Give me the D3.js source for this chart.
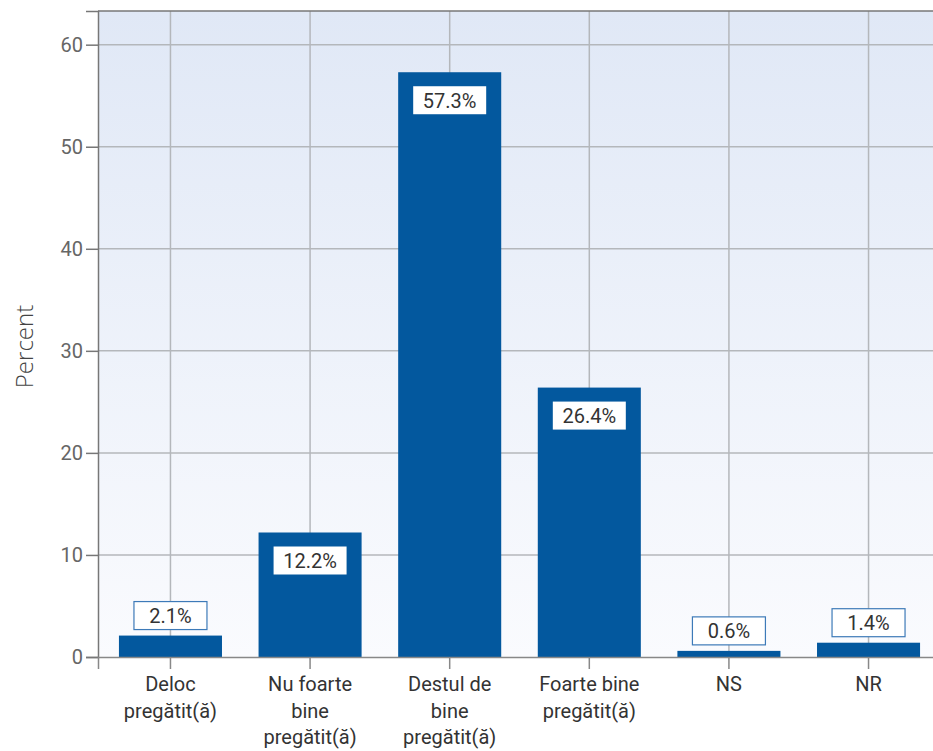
<!DOCTYPE html>
<html><head><meta charset="utf-8">
<script src="https://cdn.jsdelivr.net/npm/d3@7"></script>
<style>body{margin:0;background:#fff;}svg{display:block;font-family:Roboto,"Noto Sans",sans-serif;}</style>
</head><body><div id="chart"></div>
<script>
const categories = [["Deloc","pregătit(ă)"],["Nu foarte","bine","pregătit(ă)"],["Destul de","bine","pregătit(ă)"],["Foarte bine","pregătit(ă)"],["NS"],["NR"]];
const values = [2.1, 12.2, 57.3, 26.4, 0.6, 1.4];
const yTicks = [0,10,20,30,40,50,60];

const W = 933, H = 751;
const m = {left:98, right:0, top:11, bottom:94};
const svg = d3.select("#chart").append("svg").attr("width",W).attr("height",H);
const defs = svg.append("defs");
const g1 = defs.append("linearGradient").attr("id","bg").attr("x1",0).attr("y1",0).attr("x2",0).attr("y2",1);
g1.append("stop").attr("offset","0%").attr("stop-color","#e0e8f6");
g1.append("stop").attr("offset","100%").attr("stop-color","#fafbfe");

const ids = categories.map((c,i)=>i);
const x = d3.scaleBand().domain(ids).range([m.left, 941]).paddingInner(0.262).paddingOuter(0.15);
const y = d3.scaleLinear().domain([0,63.3]).range([H-m.bottom, m.top]);

svg.append("rect").attr("x",m.left).attr("y",m.top).attr("width",W-m.right-m.left).attr("height",H-m.bottom-m.top).attr("fill","url(#bg)");

// grid
svg.append("g").selectAll("line").data(yTicks.slice(1)).join("line")
  .attr("x1",m.left).attr("x2",W-m.right).attr("y1",d=>y(d)).attr("y2",d=>y(d))
  .attr("stroke","#b4b7bb").attr("stroke-width",1.5);
svg.append("g").selectAll("line").data(ids).join("line")
  .attr("x1",d=>x(d)+x.bandwidth()/2).attr("x2",d=>x(d)+x.bandwidth()/2).attr("y1",m.top).attr("y2",H-m.bottom)
  .attr("stroke","#b4b7bb").attr("stroke-width",1.5);

// frame top
svg.append("line").attr("x1",m.left).attr("x2",W).attr("y1",m.top).attr("y2",m.top).attr("stroke","#777").attr("stroke-width",1.5);

// bars
svg.append("g").selectAll("rect").data(values).join("rect")
  .attr("x",(d,i)=>x(i)).attr("width",x.bandwidth())
  .attr("y",d=>y(d)).attr("height",d=>y(0)-y(d)).attr("fill","#03589e");

// axes
const ya = svg.append("g").attr("transform",`translate(${m.left},0)`)
  .call(d3.axisLeft(y).tickValues(yTicks).tickSize(12).tickPadding(3));
ya.select(".domain").attr("stroke","#777").attr("stroke-width",1.5);
ya.selectAll(".tick line").attr("stroke","#777").attr("stroke-width",1.5);
ya.selectAll(".tick text").attr("font-size",20).attr("fill","#666").attr("font-family","Roboto");

const xa = svg.append("g").attr("transform",`translate(0,${y(0)})`)
  .call(d3.axisBottom(x).tickSize(12).tickFormat(""));
xa.select(".domain").attr("stroke","#888").attr("stroke-width",1.5);
xa.selectAll(".tick line").attr("stroke","#888").attr("stroke-width",1.5);
xa.selectAll(".tick").each(function(d){
  const t = d3.select(this).append("text").attr("fill","#333").attr("font-size",20).attr("text-anchor","middle").attr("font-family","Roboto");
  categories[d].forEach((line,k)=>{
    t.append("tspan").attr("x",0).attr("y",34+k*26.7).text(line);
  });
});

// axis title
svg.append("text").attr("transform",`translate(33,346.5) rotate(-90)`)
  .attr("text-anchor","middle").attr("font-size",24).attr("fill","#444").attr("font-weight",300)
  .attr("font-family","'Open Sans', 'Noto Sans', sans-serif").text("Percent");

// value labels
const lab = svg.append("g").selectAll("g").data(values).join("g");
lab.each(function(d,i){
  const g = d3.select(this);
  const cx = x(i)+x.bandwidth()/2;
  const bw = 73, bh = 28;
  const inside = (y(0)-y(d)) > 60;
  const top = inside ? y(d)+14 : y(d)-6-bh;
  g.append("rect").attr("x",cx-bw/2).attr("y",top).attr("width",bw).attr("height",bh)
    .attr("fill","#fff").attr("stroke",inside?"none":"#3d7ab8").attr("stroke-width",1.2);
  g.append("text").attr("x",cx).attr("y",top+21.4).attr("text-anchor","middle")
    .attr("font-size",20).attr("fill","#333").attr("font-family","Roboto").text(d.toFixed(1)+"%");
});
</script></body></html>
